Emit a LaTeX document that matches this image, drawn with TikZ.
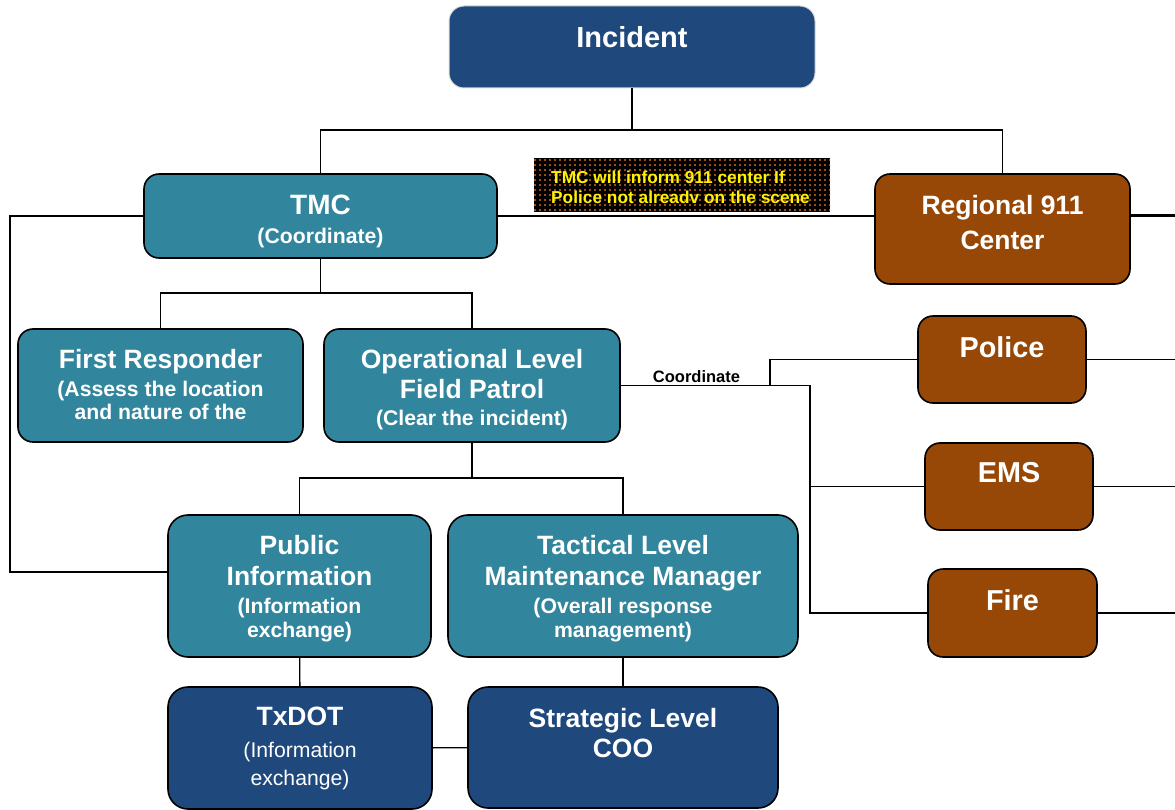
\documentclass[tikz,border=0pt]{standalone}
\usepackage{fontspec}
\setmainfont{Liberation Sans}
\usetikzlibrary{patterns.meta}
\definecolor{navybox}{HTML}{1F497D}
\definecolor{tealbox}{HTML}{31859C}
\definecolor{brownbox}{HTML}{984806}
\definecolor{dotorange}{HTML}{D2691E}
\newcommand{\subline}[1]{{\fontsize{21.2}{24}\selectfont #1}}

\begin{document}
\begin{tikzpicture}[x=1pt,y=-1pt,
  boxstyle/.style={rounded corners=15pt, draw=black, line width=1.6pt, inner sep=0pt},
  navystyle/.style={boxstyle, fill=navybox},
  tealstyle/.style={boxstyle, fill=tealbox},
  brownstyle/.style={boxstyle, fill=brownbox},
  textstyle/.style={text=white, align=center, inner sep=0pt, font=\bfseries\fontsize{26.5}{30}\selectfont},
  bigtext/.style={textstyle, font=\bfseries\fontsize{28.8}{30}\selectfont},
  notestyle/.style={inner sep=0pt, preaction={fill=black}, pattern={Dots[distance=5pt, radius=1.1pt]}, pattern color=dotorange},
  notetext/.style={text=yellow, align=left, inner sep=0pt, font=\bfseries\fontsize{17.3}{20}\selectfont},
  linkstyle/.style={line width=1.4pt}]
    \useasboundingbox (0,0) rectangle (1175,810);
    % boxes
    \node (inc) at (632,47)[navystyle, draw=gray!30, line width=1pt, minimum width=366, minimum height=82]{};
    \node (tmc) at (320.5,216)[tealstyle, minimum width=353, minimum height=84]{};
    \node (reg) at (1002.5,229)[brownstyle, minimum width=255, minimum height=110]{};
    \node (fr) at (160.5,385.5)[tealstyle, minimum width=285, minimum height=113]{};
    \node (op) at (472,385.5)[tealstyle, minimum width=296, minimum height=113]{};
    \node (pol) at (1002,359.5)[brownstyle, minimum width=168, minimum height=87]{};
    \node (ems) at (1009,486.5)[brownstyle, minimum width=168, minimum height=87]{};
    \node (fire) at (1012.5,613)[brownstyle, minimum width=169, minimum height=88]{};
    \node (pub) at (299.5,586)[tealstyle, rounded corners=20pt, minimum width=263, minimum height=142]{};
    \node (tac) at (623,586)[tealstyle, rounded corners=20pt, minimum width=350, minimum height=142]{};
    \node (tx) at (300,748)[navystyle, rounded corners=20pt, minimum width=264, minimum height=122]{};
    \node (str) at (623,747.5)[navystyle, rounded corners=20pt, minimum width=310, minimum height=121]{};
    \node (note) at (682,185)[notestyle, minimum width=296, minimum height=54]{};
    % texts
    \node (incT) at (632,37)[textstyle, font=\bfseries\fontsize{29}{30}\selectfont]{Incident};
    \node (tmcT) at (320.5,221.5)[textstyle, font=\bfseries\fontsize{28}{30}\selectfont]{TMC\\[-1pt]\subline{(Coordinate)}};
    \node (regT) at (1002.5,222.5)[textstyle]{Regional 911\\[5pt]Center};
    \node (frT) at (160.5,384.5)[textstyle]{First Responder\\[-2pt]\subline{(Assess the location}\\[-7pt]\subline{and nature of the}};
    \node (opT) at (472,389.5)[textstyle]{Operational Level\\Field Patrol\\[-3pt]\subline{(Clear the incident)}};
    \node (polT) at (1002,347)[bigtext]{Police};
    \node (emsT) at (1009,473)[bigtext]{EMS};
    \node (fireT) at (1012.5,600)[bigtext]{Fire};
    \node (pubT) at (299.5,588.5)[textstyle]{Public\\[1pt]Information\\[-2pt]\subline{(Information}\\[-6pt]\subline{exchange)}};
    \node (tacT) at (623,588.5)[textstyle]{Tactical Level\\[1pt]Maintenance Manager\\[-2pt]\subline{(Overall response}\\[-6pt]\subline{management)}};
    \node (txT) at (300,748)[textstyle]{TxDOT\\[2pt]{\mdseries\subline{(Information}}\\[-2pt]{\mdseries\subline{exchange)}}};
    \node (strT) at (623,733)[textstyle]{Strategic Level\\COO};
    \node (noteT) at (551,187)[anchor=west, notetext]{TMC will inform 911 center If\\Police not alreadv on the scene};
    % connectors
    \coordinate (topbus) at (632,130);
    \coordinate (tmcbus) at (320.5,293);
    \coordinate (opbus) at (472,478);
    \coordinate (leftbus) at (10,572);
    \coordinate (cbus) at (810,385.5);
    \coordinate (pbranch) at (770,385.5);
    \coordinate (edge) at (1175,0);
    \draw[linkstyle] (inc) -- (topbus);
    \draw[linkstyle] (tmc.north) |- (topbus) -| (reg.north);
    \draw[linkstyle] (tmc.east) -- (tmc.east -| reg.west);
    \draw[line width=3pt] (reg.west |- tmc.east) ++(255,0) -- (edge |- tmc.east);
    \draw[linkstyle] (tmc.west) -| (leftbus) -- (leftbus -| pub.west);
    \draw[linkstyle] (tmc) -- (tmcbus);
    \draw[linkstyle] (fr.north) |- (tmcbus) -| (op.north);
    \draw[linkstyle] (op.east) -- node[pos=0.4, above, inner sep=2pt, font=\bfseries\fontsize{16.5}{18}\selectfont]{Coordinate} (cbus) |- (fire.west);
    \draw[linkstyle] (cbus |- ems.west) -- (ems.west);
    \draw[linkstyle] (pbranch) |- (pol.west);
    \draw[linkstyle] (pol.east) -- (edge |- pol.east);
    \draw[linkstyle] (ems.east) -- (edge |- ems.east);
    \draw[linkstyle] (fire.east) -- (edge |- fire.east);
    \draw[linkstyle] (op) -- (opbus);
    \draw[linkstyle] (pub.north) |- (opbus) -| (tac.north);
    \draw[linkstyle] (pub) -- (tx);
    \draw[linkstyle] (tac) -- (str);
    \draw[linkstyle] (tx) -- (str);
\end{tikzpicture}
\end{document}
